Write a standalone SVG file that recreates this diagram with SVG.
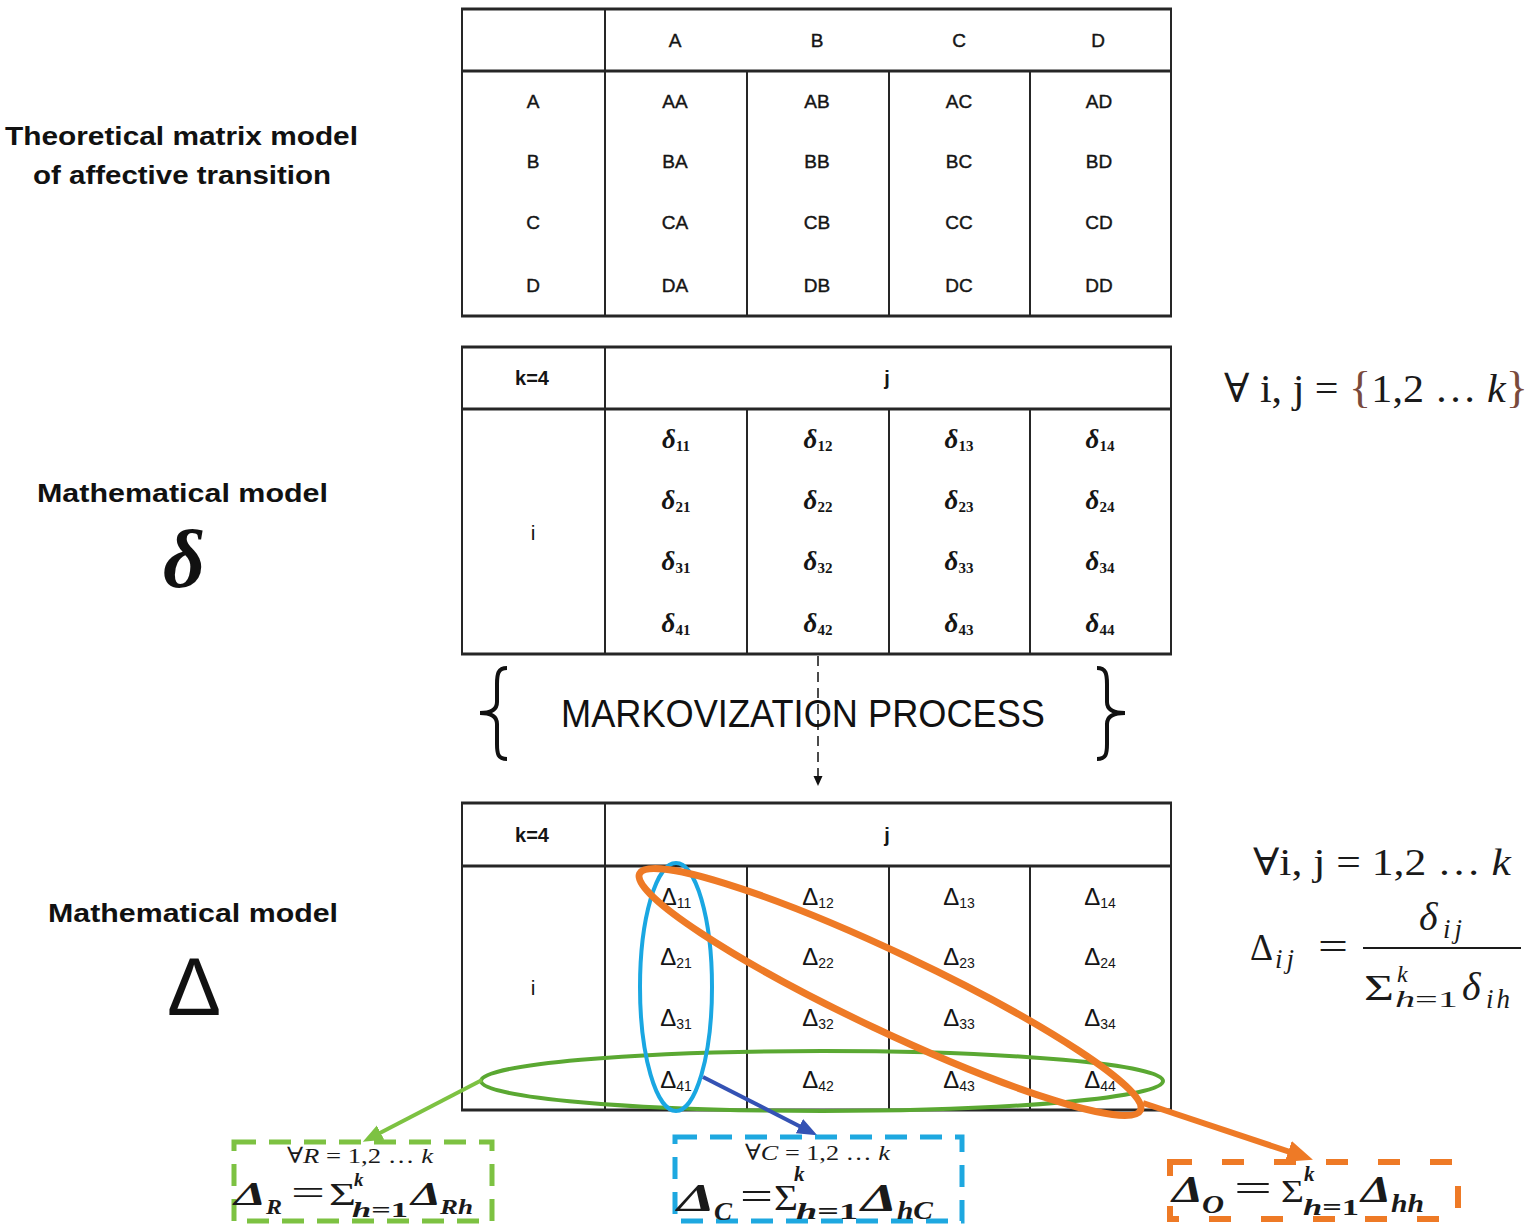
<svg xmlns="http://www.w3.org/2000/svg" width="1536" height="1232" viewBox="0 0 1536 1232">
<style>
.h{stroke:#262626;stroke-width:3;fill:none}
.v{stroke:#262626;stroke-width:2;fill:none}
.c{font-family:"Liberation Sans",Arial,sans-serif;font-size:19px;fill:#151515;text-anchor:middle;stroke:#151515;stroke-width:0.4}
.hd{font-family:"Liberation Sans",Arial,sans-serif;font-size:20px;font-weight:bold;fill:#151515;text-anchor:middle}
.ii{font-family:"Liberation Sans",Arial,sans-serif;font-size:21px;fill:#151515;text-anchor:middle}
.lbl{font-family:"Liberation Sans",Arial,sans-serif;font-size:26px;font-weight:bold;fill:#111}
.dl{font-family:"Liberation Serif","DejaVu Serif",serif;font-size:27px;font-weight:bold;font-style:italic;fill:#151515;text-anchor:middle}
.ds{font-size:15px;font-style:normal}
.Dl{font-family:"Liberation Sans",Arial,sans-serif;font-size:24px;fill:#151515;text-anchor:middle}
.Ds{font-size:14px}
.m{font-family:"Liberation Serif","DejaVu Serif",serif;fill:#1a1a1a}
.mb{font-family:"Liberation Serif","DejaVu Serif",serif;fill:#1a1a1a;font-weight:bold;font-style:italic}
.it{font-style:italic}
</style>
<defs>
<marker id="ahG" markerUnits="userSpaceOnUse" markerWidth="22" markerHeight="18" refX="4" refY="8" orient="auto"><path d="M0,0 L20,8 L0,16 z" fill="#7dc242"/></marker>
<marker id="ahB" markerUnits="userSpaceOnUse" markerWidth="22" markerHeight="18" refX="4" refY="8" orient="auto"><path d="M0,0 L20,8 L0,16 z" fill="#3452b4"/></marker>
<marker id="ahO" markerUnits="userSpaceOnUse" markerWidth="28" markerHeight="24" refX="5" refY="11" orient="auto"><path d="M0,0 L26,11 L0,22 z" fill="#ee7a26"/></marker>
<marker id="ahK" markerUnits="userSpaceOnUse" markerWidth="12" markerHeight="10" refX="1" refY="4.5" orient="auto"><path d="M0,0 L10,4.5 L0,9 z" fill="#111"/></marker>
</defs>
<rect width="1536" height="1232" fill="#fff"/>

<g id="labels">
<text class="lbl" x="5" y="145" textLength="353" lengthAdjust="spacingAndGlyphs">Theoretical matrix model</text>
<text class="lbl" x="33" y="184" textLength="298" lengthAdjust="spacingAndGlyphs">of affective transition</text>
<text class="lbl" x="37" y="502" textLength="291" lengthAdjust="spacingAndGlyphs">Mathematical model</text>
<text x="184" y="587" font-family="Liberation Serif,serif" font-size="82" font-style="italic" font-weight="bold" fill="#111" text-anchor="middle">δ</text>
<text class="lbl" x="48" y="922" textLength="290" lengthAdjust="spacingAndGlyphs">Mathematical model</text>
<text x="194" y="1015" font-family="Liberation Sans,Arial,sans-serif" font-size="81" fill="#111" text-anchor="middle">Δ</text>
</g>

<g id="table1">
<line class="h" x1="461" y1="9" x2="1172" y2="9"/>
<line class="h" x1="461" y1="71" x2="1172" y2="71"/>
<line class="h" x1="461" y1="316" x2="1172" y2="316"/>
<line class="v" x1="462" y1="9" x2="462" y2="316"/>
<line class="v" x1="605" y1="9" x2="605" y2="316"/>
<line class="v" x1="747" y1="71" x2="747" y2="316"/>
<line class="v" x1="889" y1="71" x2="889" y2="316"/>
<line class="v" x1="1030" y1="71" x2="1030" y2="316"/>
<line class="v" x1="1171" y1="9" x2="1171" y2="316"/>
<text class="c" x="675" y="47">A</text><text class="c" x="817" y="47">B</text><text class="c" x="959" y="47">C</text><text class="c" x="1098" y="47">D</text>
<text class="c" x="533" y="108">A</text><text class="c" x="675" y="108">AA</text><text class="c" x="817" y="108">AB</text><text class="c" x="959" y="108">AC</text><text class="c" x="1099" y="108">AD</text>
<text class="c" x="533" y="168">B</text><text class="c" x="675" y="168">BA</text><text class="c" x="817" y="168">BB</text><text class="c" x="959" y="168">BC</text><text class="c" x="1099" y="168">BD</text>
<text class="c" x="533" y="229">C</text><text class="c" x="675" y="229">CA</text><text class="c" x="817" y="229">CB</text><text class="c" x="959" y="229">CC</text><text class="c" x="1099" y="229">CD</text>
<text class="c" x="533" y="292">D</text><text class="c" x="675" y="292">DA</text><text class="c" x="817" y="292">DB</text><text class="c" x="959" y="292">DC</text><text class="c" x="1099" y="292">DD</text>
</g>

<g id="table2">
<line class="h" x1="461" y1="347" x2="1172" y2="347"/>
<line class="h" x1="461" y1="409" x2="1172" y2="409"/>
<line class="h" x1="461" y1="654" x2="1172" y2="654"/>
<line class="v" x1="462" y1="347" x2="462" y2="654"/>
<line class="v" x1="605" y1="347" x2="605" y2="654"/>
<line class="v" x1="747" y1="409" x2="747" y2="654"/>
<line class="v" x1="889" y1="409" x2="889" y2="654"/>
<line class="v" x1="1030" y1="409" x2="1030" y2="654"/>
<line class="v" x1="1171" y1="347" x2="1171" y2="654"/>
<text class="hd" x="532" y="385">k=4</text>
<text class="hd" x="887" y="385">j</text>
<text class="ii" x="533" y="540">i</text>
<text class="dl" x="676" y="448">δ<tspan class="ds" dy="3">11</tspan></text>
<text class="dl" x="818" y="448">δ<tspan class="ds" dy="3">12</tspan></text>
<text class="dl" x="959" y="448">δ<tspan class="ds" dy="3">13</tspan></text>
<text class="dl" x="1100" y="448">δ<tspan class="ds" dy="3">14</tspan></text>
<text class="dl" x="676" y="509">δ<tspan class="ds" dy="3">21</tspan></text>
<text class="dl" x="818" y="509">δ<tspan class="ds" dy="3">22</tspan></text>
<text class="dl" x="959" y="509">δ<tspan class="ds" dy="3">23</tspan></text>
<text class="dl" x="1100" y="509">δ<tspan class="ds" dy="3">24</tspan></text>
<text class="dl" x="676" y="570">δ<tspan class="ds" dy="3">31</tspan></text>
<text class="dl" x="818" y="570">δ<tspan class="ds" dy="3">32</tspan></text>
<text class="dl" x="959" y="570">δ<tspan class="ds" dy="3">33</tspan></text>
<text class="dl" x="1100" y="570">δ<tspan class="ds" dy="3">34</tspan></text>
<text class="dl" x="676" y="632">δ<tspan class="ds" dy="3">41</tspan></text>
<text class="dl" x="818" y="632">δ<tspan class="ds" dy="3">42</tspan></text>
<text class="dl" x="959" y="632">δ<tspan class="ds" dy="3">43</tspan></text>
<text class="dl" x="1100" y="632">δ<tspan class="ds" dy="3">44</tspan></text>
</g>

<g id="formula-top">
<text class="m" x="1224" y="402" font-size="40" textLength="304" lengthAdjust="spacingAndGlyphs">∀ i, j = <tspan fill="#7a4a3c" font-size="44">{</tspan>1,2 … <tspan class="it">k</tspan><tspan fill="#7a4a3c" font-size="44">}</tspan></text>
</g>

<g id="markov">
<path d="M507,668 C498,668 497,674 497,684 L497,702 C497,709 492,713 480,713 C492,713 497,717 497,724 L497,744 C497,754 498,759 507,759" fill="none" stroke="#111" stroke-width="4"/>
<path d="M1097,668 C1106,668 1107,674 1107,684 L1107,702 C1107,709 1112,713 1125,713 C1112,713 1107,717 1107,724 L1107,744 C1107,754 1106,759 1097,759" fill="none" stroke="#111" stroke-width="4"/>
<text x="561" y="727" font-family="Liberation Sans,Arial,sans-serif" font-size="38" fill="#111" textLength="484" lengthAdjust="spacingAndGlyphs">MARKOVIZATION PROCESS</text>
</g>

<g id="table3">
<line class="h" x1="461" y1="803" x2="1172" y2="803"/>
<line class="h" x1="461" y1="866" x2="1172" y2="866"/>
<line class="h" x1="461" y1="1110" x2="1172" y2="1110"/>
<line class="v" x1="462" y1="803" x2="462" y2="1110"/>
<line class="v" x1="605" y1="803" x2="605" y2="1110"/>
<line class="v" x1="747" y1="866" x2="747" y2="1110"/>
<line class="v" x1="889" y1="866" x2="889" y2="1110"/>
<line class="v" x1="1030" y1="866" x2="1030" y2="1110"/>
<line class="v" x1="1171" y1="803" x2="1171" y2="1110"/>
<text class="hd" x="532" y="842">k=4</text>
<text class="hd" x="887" y="842">j</text>
<text class="ii" x="533" y="995">i</text>
<text class="Dl" x="676" y="905">Δ<tspan class="Ds" dy="3">11</tspan></text>
<text class="Dl" x="818" y="905">Δ<tspan class="Ds" dy="3">12</tspan></text>
<text class="Dl" x="959" y="905">Δ<tspan class="Ds" dy="3">13</tspan></text>
<text class="Dl" x="1100" y="905">Δ<tspan class="Ds" dy="3">14</tspan></text>
<text class="Dl" x="676" y="965">Δ<tspan class="Ds" dy="3">21</tspan></text>
<text class="Dl" x="818" y="965">Δ<tspan class="Ds" dy="3">22</tspan></text>
<text class="Dl" x="959" y="965">Δ<tspan class="Ds" dy="3">23</tspan></text>
<text class="Dl" x="1100" y="965">Δ<tspan class="Ds" dy="3">24</tspan></text>
<text class="Dl" x="676" y="1026">Δ<tspan class="Ds" dy="3">31</tspan></text>
<text class="Dl" x="818" y="1026">Δ<tspan class="Ds" dy="3">32</tspan></text>
<text class="Dl" x="959" y="1026">Δ<tspan class="Ds" dy="3">33</tspan></text>
<text class="Dl" x="1100" y="1026">Δ<tspan class="Ds" dy="3">34</tspan></text>
<text class="Dl" x="676" y="1088">Δ<tspan class="Ds" dy="3">41</tspan></text>
<text class="Dl" x="818" y="1088">Δ<tspan class="Ds" dy="3">42</tspan></text>
<text class="Dl" x="959" y="1088">Δ<tspan class="Ds" dy="3">43</tspan></text>
<text class="Dl" x="1100" y="1088">Δ<tspan class="Ds" dy="3">44</tspan></text>
</g>

<g id="formula-right">
<text class="m" x="1253" y="875" font-size="38" textLength="258" lengthAdjust="spacingAndGlyphs">∀i, j = 1,2 … <tspan class="it">k</tspan></text>
<text class="m" x="1250" y="960" font-size="38" textLength="23" lengthAdjust="spacingAndGlyphs">Δ</text>
<text class="m it" x="1275" y="968" font-size="27" letter-spacing="4">ij</text>
<text class="m" x="1318" y="960" font-size="40" textLength="30" lengthAdjust="spacingAndGlyphs">=</text>
<line x1="1363" y1="948" x2="1521" y2="948" stroke="#1a1a1a" stroke-width="2"/>
<text class="m it" x="1419" y="930" font-size="40">δ</text>
<text class="m it" x="1443" y="938" font-size="27" letter-spacing="4">ij</text>
<text class="m" x="1364" y="1000" font-size="36" textLength="30" lengthAdjust="spacingAndGlyphs">Σ</text>
<text class="m it" x="1397" y="982" font-size="24">k</text>
<text class="m" x="1395" y="1007" font-size="24" textLength="63" lengthAdjust="spacingAndGlyphs"><tspan class="it">h</tspan>=1</text>
<text class="m it" x="1462" y="1000" font-size="40">δ</text>
<text class="m it" x="1486" y="1008" font-size="27" letter-spacing="3">ih</text>
</g>

<g id="ellipses">
<ellipse cx="822" cy="1081" rx="341" ry="30" fill="none" stroke="#5aa832" stroke-width="4"/>
<ellipse cx="676" cy="987" rx="36" ry="124" fill="none" stroke="#1aa7e2" stroke-width="4"/>
<ellipse cx="890" cy="992" rx="277" ry="39" transform="rotate(25.3 890 992)" fill="none" stroke="#ee7a26" stroke-width="7"/>
</g>

<g id="connectors">
<line x1="818" y1="656" x2="818" y2="777" stroke="#111" stroke-width="1.5" stroke-dasharray="10 6" marker-end="url(#ahK)"/>
<line x1="482" y1="1080" x2="377" y2="1134.5" stroke="#7dc242" stroke-width="4" marker-end="url(#ahG)"/>
<line x1="703" y1="1077" x2="803" y2="1128" stroke="#3452b4" stroke-width="4" marker-end="url(#ahB)"/>
<line x1="1143" y1="1103" x2="1293" y2="1153" stroke="#ee7a26" stroke-width="6" marker-end="url(#ahO)"/>
</g>

<g id="box-R">
<rect x="234" y="1142" width="258" height="79" fill="none" stroke="#7dc242" stroke-width="5" stroke-dasharray="22 13"/>
<text class="m" x="287" y="1163" font-size="22" textLength="146" lengthAdjust="spacingAndGlyphs">∀<tspan class="it">R</tspan> = 1,2 … <tspan class="it">k</tspan></text>
<text class="mb" x="234" y="1205" font-size="34" textLength="32" lengthAdjust="spacingAndGlyphs">Δ</text>
<text class="mb" x="266" y="1214" font-size="22" textLength="16" lengthAdjust="spacingAndGlyphs">R</text>
<text class="m" x="291" y="1205" font-size="36" textLength="34" lengthAdjust="spacingAndGlyphs">=</text>
<text class="m" x="329" y="1205" font-size="32" textLength="27" lengthAdjust="spacingAndGlyphs">Σ</text>
<text class="mb" x="354" y="1186" font-size="19">k</text>
<text class="m" x="352" y="1217" font-size="21" font-weight="bold" textLength="56" lengthAdjust="spacingAndGlyphs"><tspan class="it">h</tspan>=1</text>
<text class="mb" x="411" y="1205" font-size="34" textLength="30" lengthAdjust="spacingAndGlyphs">Δ</text>
<text class="mb" x="440" y="1214" font-size="22" textLength="33" lengthAdjust="spacingAndGlyphs">Rh</text>
</g>

<g id="box-C">
<rect x="675" y="1137" width="287" height="84" fill="none" stroke="#1ea8e0" stroke-width="5" stroke-dasharray="22 13"/>
<text class="m" x="745" y="1160" font-size="22" textLength="145" lengthAdjust="spacingAndGlyphs">∀<tspan class="it">C</tspan> = 1,2 … <tspan class="it">k</tspan></text>
<text class="mb" x="677" y="1211" font-size="40" textLength="38" lengthAdjust="spacingAndGlyphs">Δ</text>
<text class="mb" x="714" y="1220" font-size="26" textLength="18" lengthAdjust="spacingAndGlyphs">C</text>
<text class="m" x="740" y="1210" font-size="40" textLength="33" lengthAdjust="spacingAndGlyphs">=</text>
<text class="m" x="774" y="1210" font-size="36" textLength="24" lengthAdjust="spacingAndGlyphs">Σ</text>
<text class="mb" x="794" y="1181" font-size="21">k</text>
<text class="m" x="796" y="1219" font-size="23" font-weight="bold" textLength="62" lengthAdjust="spacingAndGlyphs"><tspan class="it">h</tspan>=1</text>
<text class="mb" x="861" y="1211" font-size="40" textLength="36" lengthAdjust="spacingAndGlyphs">Δ</text>
<text class="mb" x="897" y="1219" font-size="26" textLength="36" lengthAdjust="spacingAndGlyphs">hC</text>
</g>

<g id="box-O">
<rect x="1170" y="1162" width="288" height="57" fill="none" stroke="#ee7a26" stroke-width="6" stroke-dasharray="22 30"/>
<text class="mb" x="1172" y="1202" font-size="38" textLength="31" lengthAdjust="spacingAndGlyphs">Δ</text>
<text class="mb" x="1202" y="1213" font-size="26" textLength="22" lengthAdjust="spacingAndGlyphs">O</text>
<text class="m" x="1234" y="1202" font-size="40" textLength="38" lengthAdjust="spacingAndGlyphs">=</text>
<text class="m" x="1281" y="1202" font-size="32" textLength="23" lengthAdjust="spacingAndGlyphs">Σ</text>
<text class="mb" x="1304" y="1181" font-size="21">k</text>
<text class="m" x="1303" y="1215" font-size="23" font-weight="bold" textLength="56" lengthAdjust="spacingAndGlyphs"><tspan class="it">h</tspan>=1</text>
<text class="mb" x="1361" y="1202" font-size="38" textLength="30" lengthAdjust="spacingAndGlyphs">Δ</text>
<text class="mb" x="1391" y="1212" font-size="26" textLength="33" lengthAdjust="spacingAndGlyphs">hh</text>
</g>
</svg>
